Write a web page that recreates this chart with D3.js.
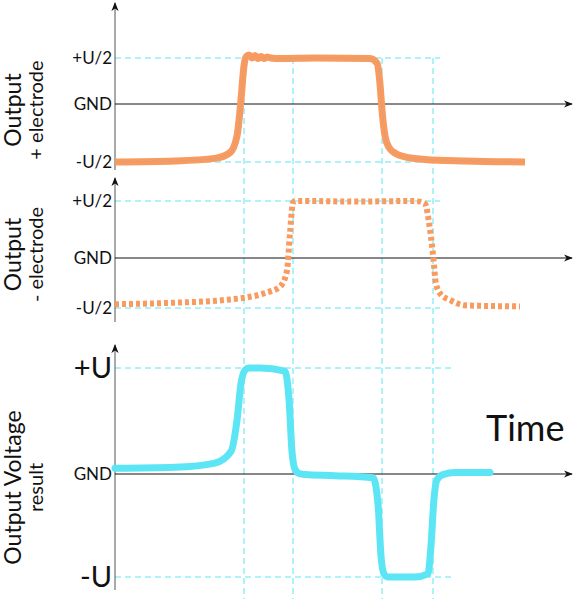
<!DOCTYPE html>
<html><head><meta charset="utf-8">
<script src="https://cdn.jsdelivr.net/npm/d3@7"></script>
<style>body{margin:0;background:#fff}text{font-family:Lato,"Open Sans",sans-serif;fill:#111}</style>
</head><body>
<script>
// time values (arbitrary units) and signal levels (-1..1)
var plusT   = [0,60,100,115,122,126,129,131,134,137,140,143,146,149,152,156,165,200,255,262,265,267,270,274,280,290,310,350,410];
var plusV   = [-1,-0.98,-0.93,-0.82,-0.5,0.2,0.85,1.02,1.06,1.0,1.05,0.99,1.03,0.99,1.02,1.0,0.99,1.0,0.99,0.9,0.5,0.0,-0.5,-0.72,-0.83,-0.9,-0.95,-0.98,-1.0];
var minusT  = [0,60,110,150,165,172,175,178,181,190,240,300,310,314,318,321,326,335,350,405];
var minusV  = [-0.93,-0.9,-0.85,-0.72,-0.6,-0.3,0.4,0.97,1.0,1.0,0.99,1.0,0.95,0.6,0.0,-0.55,-0.75,-0.85,-0.95,-0.97];
var outT    = [0,60,100,116,122,126,130,134,145,170,174,177,180,184,190,220,258,263,266,269,273,300,313,316,319,322,328,340,355,375];
var outV    = [0.04,0.05,0.09,0.2,0.5,0.85,0.98,1.0,1.0,0.97,0.7,0.2,0.03,-0.01,-0.02,-0.03,-0.05,-0.3,-0.8,-0.97,-1.0,-1.0,-0.97,-0.7,-0.25,-0.07,-0.02,0.0,0.0,0.0];
var guideT  = [129,178,267,318];

var svg = d3.select("body").append("svg").attr("width",574).attr("height",599);
var x = d3.scaleLinear().domain([0,410]).range([115,525]);
var cyan = "#5ce5f5", orange = "#f99a5e";

var panels = [
  {top:3, bot:170, hi:58, gnd:104, lo:162, labels:["+U/2","GND","-U/2"], fs:[17,17,17], gx:440, t1:"Output", t2:"+ electrode"},
  {top:178, bot:322, hi:201, gnd:258, lo:308, labels:["+U/2","GND","-U/2"], fs:[17,17,17], gx:440, t1:"Output", t2:"- electrode"},
  {top:345, bot:590, hi:368, gnd:474, lo:577, labels:["+U","GND","-U"], fs:[29,17,29], gx:455, t1:"Output Voltage", t2:"result"}
];

svg.append("defs").append("marker").attr("id","arr").attr("viewBox","0 0 10 10").attr("refX",9).attr("refY",5)
  .attr("markerWidth",9).attr("markerHeight",9).attr("orient","auto-start-reverse")
  .append("path").attr("d","M0,1 L10,5 L0,9 L3,5 Z").attr("fill","#111");

// vertical guides
guideT.forEach(function(t){
  svg.append("line").attr("x1",x(t)).attr("x2",x(t)).attr("y1",58).attr("y2",599)
    .attr("stroke",cyan).attr("stroke-width",1).attr("stroke-dasharray","6,4");
});

panels.forEach(function(p){
  var y = d3.scaleLinear().domain([-1,1]).range([p.lo,p.hi]);
  p.y = y;
  [p.hi,p.lo].forEach(function(v){
    svg.append("line").attr("x1",115).attr("x2",p.gx).attr("y1",v).attr("y2",v)
      .attr("stroke",cyan).attr("stroke-dasharray","6,4");
  });
  svg.append("line").attr("x1",115).attr("x2",115).attr("y1",p.bot).attr("y2",p.top)
    .attr("stroke","#555").attr("marker-end","url(#arr)");
  svg.append("line").attr("x1",115).attr("x2",572).attr("y1",p.gnd).attr("y2",p.gnd)
    .attr("stroke","#111").attr("marker-end","url(#arr)");
  [p.hi,p.gnd,p.lo].forEach(function(v,i){
    svg.append("text").attr("x",112).attr("y",v).attr("dy","0.35em").attr("text-anchor","end")
      .style("font-size",p.fs[i]+"px").text(p.labels[i]);
  });
  var cy = (p.hi+p.lo)/2 + (p === panels[2] ? 15 : 0);
  svg.append("text").attr("transform","translate(21,"+cy+") rotate(-90)").attr("text-anchor","middle")
    .style("font-size","23px").text(p.t1);
  svg.append("text").attr("transform","translate(43,"+cy+") rotate(-90)").attr("text-anchor","middle")
    .style("font-size","20px").text(p.t2);
});

function line(p){ return d3.line().x(function(d){return x(d[0]);}).y(function(d){return p.y(d[1]);}).curve(d3.curveMonotoneX); }
var plus = d3.zip(plusT,plusV), minus = d3.zip(minusT,minusV), out = d3.zip(outT,outV);

svg.append("path").attr("d",line(panels[0])(plus)).attr("fill","none").attr("stroke",orange)
  .attr("stroke-width",7).attr("stroke-linejoin","round");
svg.append("path").attr("d",line(panels[0])(plus)).attr("fill","none").attr("stroke","#c9a090").attr("stroke-width",0.8).attr("opacity",0.6);
svg.append("path").attr("d",line(panels[1])(minus)).attr("fill","none").attr("stroke",orange)
  .attr("stroke-width",6).attr("stroke-dasharray","4,3");
svg.append("path").attr("d",line(panels[2])(out)).attr("fill","none").attr("stroke",cyan)
  .attr("stroke-width",7).attr("stroke-linecap","round");

svg.append("text").attr("x",486).attr("y",441).style("font-size","36px").text("Time");
</script>
</body></html>
